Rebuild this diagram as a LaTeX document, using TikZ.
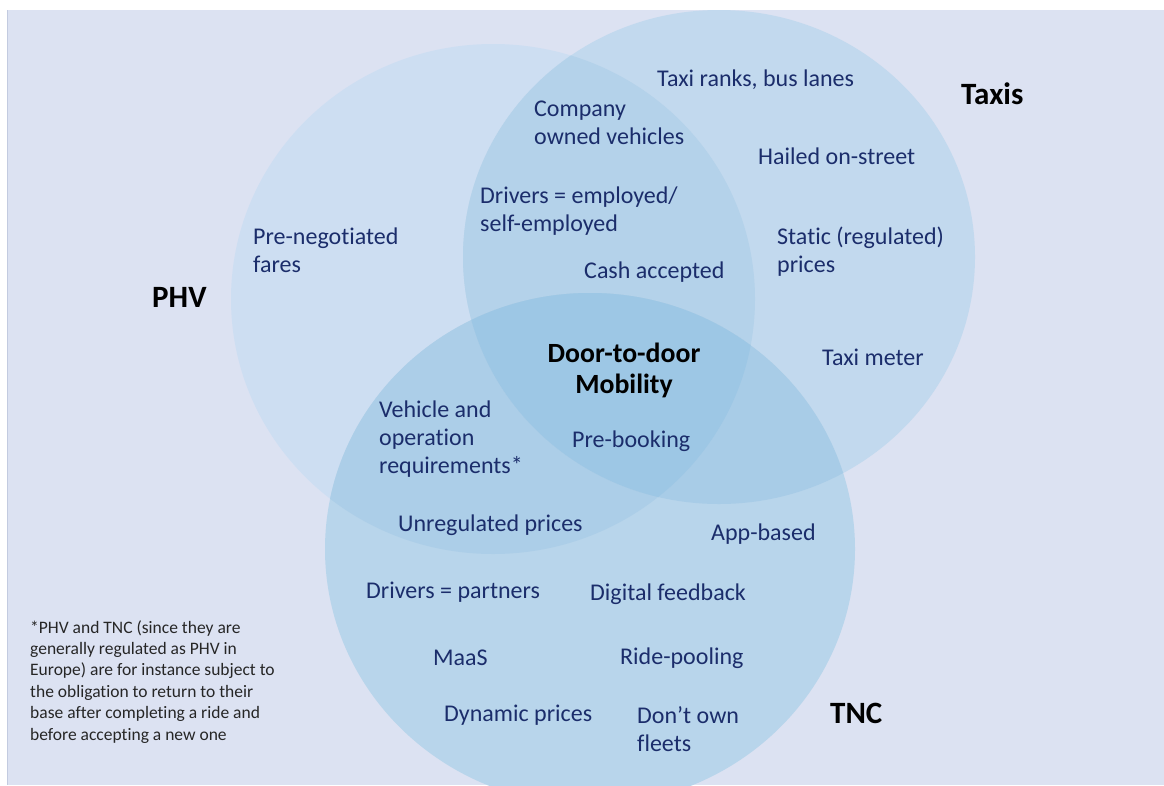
\documentclass[tikz,border=0pt]{standalone}
\usepackage{fontspec}
\setmainfont[Ligatures=NoCommon]{Carlito}
\definecolor{bgc}{HTML}{DCE2F2}
\definecolor{edge}{HTML}{C3CBE0}
\definecolor{cP}{HTML}{CDDEF2}
\definecolor{cT}{HTML}{C2D9EE}
\definecolor{cN}{HTML}{B8D5EB}
\definecolor{cPT}{HTML}{B4D2EA}
\definecolor{cPN}{HTML}{ACCEE8}
\definecolor{cTN}{HTML}{A8CCE7}
\definecolor{cPTN}{HTML}{9DC7E5}
\definecolor{navy}{HTML}{1B2D6B}
\tikzset{
  txt/.style={anchor=west, align=left, text=navy, inner sep=0pt, yshift=-1.5pt,
    font=\fontsize{24}{28}\selectfont},
  ttl/.style={anchor=west, text=black, inner sep=0pt,
    font=\fontsize{31}{34}\selectfont\bfseries},
  ctr/.style={align=center, text=black, inner sep=0pt, yshift=-1pt,
    font=\fontsize{27.8}{31}\selectfont\bfseries},
  note/.style={anchor=north west, align=left, text=black!85, inner sep=0pt,
    font=\fontsize{17.5}{21.4}\selectfont},
}
\def\phv{(493,299) ellipse [x radius=262pt, y radius=255pt]}
\def\tax{(719,257) ellipse [x radius=256pt, y radius=247pt]}
\def\tnc{(590,549) ellipse [x radius=265pt, y radius=256pt]}
\begin{document}
\begin{tikzpicture}[x=1pt,y=-1pt]
\useasboundingbox (0,0) rectangle (1164,785);
\fill[bgc] (7,10) rectangle (1164,785);
\draw[edge, line width=1.5pt] (7.5,10) -- (7.5,785);
\begin{scope}
\clip (7,10) rectangle (1164,785);
\fill[cP] \phv;
\fill[cT] \tax;
\fill[cN] \tnc;
\begin{scope}\clip \phv; \fill[cPT] \tax; \end{scope}
\begin{scope}\clip \phv; \fill[cPN] \tnc; \end{scope}
\begin{scope}\clip \tax; \fill[cTN] \tnc; \end{scope}
\begin{scope}\clip \phv; \clip \tax; \fill[cPTN] \tnc; \end{scope}
\end{scope}
% titles
\node[ttl] (taxis) at (961,94) {Taxis};
\node[ttl] (phvt) at (152,297) {PHV};
\node[ttl] (tnct) at (830,713) {TNC};
\node[ctr] (door) at (624,369) {Door-to-door\\Mobility};
% texts
\node[txt] (ranks) at (657,78) {Taxi ranks, bus lanes};
\node[txt] (company) at (534,121) {Company\\owned vehicles};
\node[txt] (hailed) at (758,155) {Hailed on-street};
\node[txt] (drivers) at (480,210) {Drivers = employed/\\self-employed};
\node[txt] (prenego) at (253,249) {Pre-negotiated\\fares};
\node[txt] (static) at (777,250) {Static (regulated)\\prices};
\node[txt] (cash) at (584,271) {Cash accepted};
\node[txt] (meter) at (822,356) {Taxi meter};
\node[txt] (vehicle) at (379,438) {Vehicle and\\operation\\requirements*};
\node[txt] (prebook) at (572,440) {Pre-booking};
\node[txt] (unreg) at (398,524) {Unregulated prices};
\node[txt] (app) at (711,533) {App-based};
\node[txt] (partners) at (366,591) {Drivers = partners};
\node[txt] (digital) at (590,593) {Digital feedback};
\node[txt] (maas) at (433,656) {MaaS};
\node[txt] (pooling) at (620,657) {Ride-pooling};
\node[txt] (dynamic) at (444,714) {Dynamic prices};
\node[txt] (fleets) at (637,728) {Don’t own\\fleets};
\node[note] (fn) at (30,620) {*PHV and TNC (since they are\\generally regulated as PHV in\\Europe) are for instance subject to\\the obligation to return to their\\base after completing a ride and\\before accepting a new one};
\end{tikzpicture}
\end{document}
